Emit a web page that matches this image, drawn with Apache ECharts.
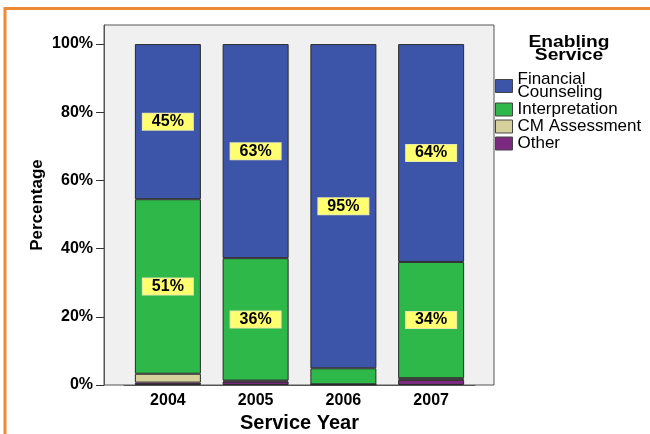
<!DOCTYPE html>
<html><head><meta charset="utf-8">
<script src="https://cdn.jsdelivr.net/npm/echarts@6/dist/echarts.min.js"></script>
<style>html,body{margin:0;padding:0;background:#fff;overflow:hidden}#c{width:650px;height:434px}</style>
</head><body><div id="c"></div>
<script>
const years = ['2004','2005','2006','2007'];
const other = [0.7, 1.0, 0.2, 1.5];
const cmAssessment = [2.6, 0.3, 0.0, 0.5];
const interpretation = [51.2, 35.9, 4.7, 34.1];
const financial = [45.5, 62.8, 95.1, 63.9];
const financialLabels = ['45%','63%','95%','64%'];
const interpLabels = ['51%','36%','','34%'];
const yTicks = [0,20,40,60,80,100];

const F = 'Liberation Sans, Arial, sans-serif';
const labelStyle = {
  show: true, position: 'inside', color: '#000', fontFamily: F, fontWeight: 'bold', fontSize: 16, lineHeight: 15,
  backgroundColor: '#ffff70', padding: [1, 9, 0, 9], borderColor: '#e8e8a8', borderWidth: 1
};
function mk(name, vals, color, labels){
  return {
    name, type: 'bar', stack: 'a', barWidth: 66,
    itemStyle: {color, borderColor: '#2a2a2a', borderWidth: 1},
    data: vals.map((v,i)=>({value:v, label: labels && labels[i] ? Object.assign({}, labelStyle, {formatter: labels[i]}) : {show:false}})),
    emphasis: {disabled: true}
  };
}
const chart = echarts.init(document.getElementById('c'));
chart.setOption({
  animation: false,
  backgroundColor: '#fff',
  graphic: [
    {type:'polyline', shape:{points:[[5,434],[5,8.5],[650,8.5]]}, style:{stroke:'#ee8a33', lineWidth:3, fill:null}},
    {type:'text', x: 569, y: 36, scaleX: 1.2, style:{text:'Enabling\nService', font:'bold 16px '+F, fill:'#000', align:'center', lineHeight:13}}
  ],
  grid: [
    {left: 124, right: 175, top: 25, bottom: 49, show: false, outerBoundsMode: 'none', containLabel: false},
    {left: 104, right: 156, top: 25, bottom: 49, show: true, z: 0, backgroundColor: '#f0f0f0', borderColor: '#555', borderWidth: 1, outerBoundsMode: 'none'}
  ],
  legend: {
    orient: 'vertical', left: 495, top: 71, padding: 0, itemWidth: 17, itemHeight: 13, itemGap: 0, icon: 'rect',
    data: ['Financial\nCounseling','Interpretation','CM Assessment','Other'],
    textStyle: {fontFamily: F, fontSize: 17, color: '#000', lineHeight: 13},
    itemStyle: {borderColor: '#444', borderWidth: 1}, selectedMode: false
  },
  xAxis: [{
    type: 'category', data: years, name: 'Service Year', nameLocation: 'middle', nameGap: 23,
    nameTextStyle: {fontFamily: F, fontWeight: 'bold', fontSize: 20, color: '#000'},
    axisLine: {lineStyle: {color: '#555'}}, axisTick: {alignWithLabel: true, length: 6, lineStyle:{color:'#333'}},
    axisLabel: {fontFamily: F, fontWeight: 'bold', fontSize: 16, color: '#000', margin: 8}
  }, {type: 'value', gridIndex: 1, show: false}],
  yAxis: [{
    type: 'value', min: 0, max: 105.6, interval: 20, offset: 20, name: 'Percentage', nameLocation: 'middle', nameGap: 58, nameMoveOverlap: false,
    nameTextStyle: {fontFamily: F, fontWeight: 'bold', fontSize: 17, color: '#000'},
    splitLine: {show: false}, axisLine: {show: true, lineStyle:{color:'#555'}}, axisTick: {show: true, length: 8, lineStyle:{color:'#333'}},
    axisLabel: {fontFamily: F, fontWeight: 'bold', fontSize: 16, color: '#000', margin: 11, showMaxLabel: false, formatter: v => yTicks.includes(v) ? v + '%' : ''}
  }, {type: 'value', gridIndex: 1, show: false}],
  series: [
    mk('Other', other, '#7b2a7f'),
    mk('CM Assessment', cmAssessment, '#d6d09c'),
    mk('Interpretation', interpretation, '#2fb84a', interpLabels),
    mk('Financial\nCounseling', financial, '#3c55a8', financialLabels)
  ]
});
</script></body></html>
